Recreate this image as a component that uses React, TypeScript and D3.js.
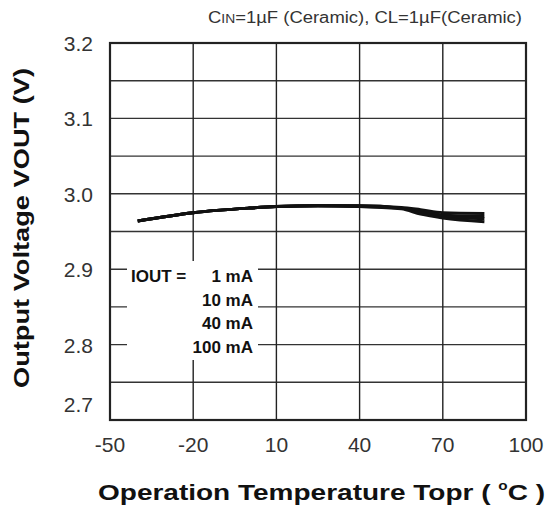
import * as d3 from "d3";
import { useRef, useEffect } from "react";

// temperatures (degC)
const temps = [-40, -20, 0, 10, 25, 40, 55, 62, 70, 85];
const vout1mA = [2.964, 2.975, 2.981, 2.983, 2.984, 2.984, 2.982, 2.979, 2.975, 2.974];
const vout10mA = [2.964, 2.975, 2.981, 2.983, 2.984, 2.984, 2.981, 2.977, 2.972, 2.970];
const vout40mA = [2.964, 2.975, 2.981, 2.983, 2.984, 2.983, 2.981, 2.975, 2.970, 2.967];
const vout100mA = [2.964, 2.975, 2.981, 2.983, 2.984, 2.983, 2.980, 2.973, 2.968, 2.963];
const seriesNames = ["1 mA", "10 mA", "40 mA", "100 mA"];

const xTicks = [-50, -20, 10, 40, 70, 100];
const yTicks = [3.2, 3.1, 3.0, 2.9, 2.8, 2.7];
const yGrid = [3.15, 3.1, 3.05, 3.0, 2.95, 2.9, 2.85, 2.8, 2.75];

const FONT = "'Liberation Sans', Arial, Helvetica, sans-serif";

export default function App() {
  const svgRef = useRef(null);

  useEffect(() => {
    const width = 547;
    const height = 510;
    const m = { left: 110, right: 526, top: 43, bottom: 420 };

    const svg = d3.select(svgRef.current).attr("width", width).attr("height", height);
    svg.selectAll("*").remove();

    const x = d3.scaleLinear().domain([-50, 100]).range([m.left, m.right]);
    const y = d3.scaleLinear().domain([2.7, 3.2]).range([m.bottom, m.top]);

    svg.append("rect").attr("width", width).attr("height", height).attr("fill", "#fff");

    // grid
    svg
      .append("g")
      .selectAll("line")
      .data(yGrid)
      .enter()
      .append("line")
      .attr("x1", m.left)
      .attr("x2", m.right)
      .attr("y1", (d) => y(d))
      .attr("y2", (d) => y(d))
      .attr("stroke", "#333")
      .attr("stroke-width", 1.4);

    svg
      .append("g")
      .selectAll("line")
      .data(xTicks.slice(1, -1))
      .enter()
      .append("line")
      .attr("x1", (d) => x(d))
      .attr("x2", (d) => x(d))
      .attr("y1", m.top)
      .attr("y2", m.bottom)
      .attr("stroke", "#222")
      .attr("stroke-width", 1.4);

    // curves
    const line = d3
      .line<number>()
      .x((_, i) => x(temps[i]))
      .y((d) => y(d))
      .curve(d3.curveMonotoneX);

    const all = [vout1mA, vout10mA, vout40mA, vout100mA];
    svg
      .append("g")
      .selectAll("path")
      .data(all)
      .enter()
      .append("path")
      .attr("d", (d) => line(d))
      .attr("fill", "none")
      .attr("stroke", "#111")
      .attr("stroke-width", 3);

    // frame
    svg
      .append("rect")
      .attr("x", m.left)
      .attr("y", m.top)
      .attr("width", m.right - m.left)
      .attr("height", m.bottom - m.top)
      .attr("fill", "none")
      .attr("stroke", "#222")
      .attr("stroke-width", 2.2);

    // legend box (white background cutting the grid)
    const lg = svg.append("g");
    lg.append("rect")
      .attr("x", 127)
      .attr("y", 261)
      .attr("width", 131)
      .attr("height", 99)
      .attr("fill", "#fff");
    lg.selectAll("text.s")
      .data(seriesNames)
      .enter()
      .append("text")
      .attr("x", 253)
      .attr("y", (_, i) => 282 + i * 23.7)
      .attr("text-anchor", "end")
      .attr("font-family", FONT)
      .attr("font-weight", "bold")
      .attr("font-size", 17)
      .attr("fill", "#111")
      .text((d) => d);
    lg.append("text")
      .attr("x", 131)
      .attr("y", 282)
      .attr("font-family", FONT)
      .attr("font-weight", "bold")
      .attr("font-size", 17)
      .attr("fill", "#111")
      .text("IOUT =");

    // tick labels
    svg
      .append("g")
      .selectAll("text")
      .data(xTicks)
      .enter()
      .append("text")
      .attr("x", (d) => x(d))
      .attr("y", 452)
      .attr("text-anchor", "middle")
      .attr("font-family", FONT)
      .attr("font-size", 21)
      .attr("fill", "#333")
      .text((d) => d);

    svg
      .append("g")
      .selectAll("text")
      .data(yTicks)
      .enter()
      .append("text")
      .attr("x", 93)
      .attr("y", (d) => Math.min(y(d), m.bottom - 16) + 8)
      .attr("text-anchor", "end")
      .attr("font-family", FONT)
      .attr("font-size", 21)
      .attr("fill", "#333")
      .text((d) => d.toFixed(1));

    // axis titles
    svg
      .append("text")
      .attr("transform", `translate(29, 228) rotate(-90)`)
      .attr("text-anchor", "middle")
      .attr("font-family", FONT)
      .attr("font-weight", "bold")
      .attr("font-size", 22)
      .attr("textLength", 320)
      .attr("lengthAdjust", "spacingAndGlyphs")
      .attr("fill", "#111")
      .text("Output Voltage VOUT (V)");

    const xl = svg
      .append("text")
      .attr("x", 98)
      .attr("y", 500)
      .attr("font-family", FONT)
      .attr("font-weight", "bold")
      .attr("font-size", 22)
      .attr("textLength", 447)
      .attr("lengthAdjust", "spacingAndGlyphs")
      .attr("fill", "#111");
    xl.append("tspan").text("Operation Temperature Topr ( ");
    xl.append("tspan").attr("font-size", 12).attr("dy", -10).text("o");
    xl.append("tspan").attr("dy", 10).text("C )");

    // condition note
    const note = svg
      .append("text")
      .attr("x", 208)
      .attr("y", 23)
      .attr("font-family", FONT)
      .attr("font-size", 16)
      .attr("textLength", 314)
      .attr("lengthAdjust", "spacingAndGlyphs")
      .attr("fill", "#333");
    note.append("tspan").text("C");
    note.append("tspan").attr("font-size", 12).text("IN");
    note.append("tspan").text("=1\u00b5F (Ceramic), CL=1\u00b5F(Ceramic)");
  }, []);

  return <svg ref={svgRef} style={{ position: "absolute", left: 0, top: 0 }} />;
}
